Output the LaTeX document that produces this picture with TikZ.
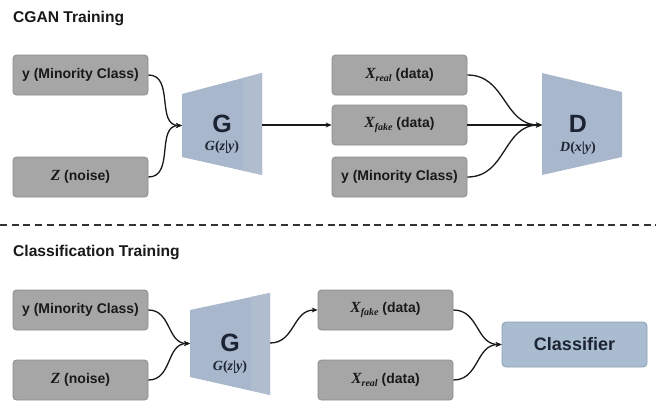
\documentclass[tikz,border=0pt]{standalone}
\usepackage{fontspec}
\setmainfont{Liberation Sans}
\newfontfamily\mserif{Liberation Serif}
\usetikzlibrary{arrows.meta}
\definecolor{boxfill}{HTML}{A6A6A6}
\definecolor{boxdraw}{HTML}{8C8C8C}
\definecolor{trapfill}{HTML}{A8B7CB}
\definecolor{trapstrip}{HTML}{AFBDCF}
\definecolor{navy}{HTML}{1C2433}
\definecolor{clsfill}{HTML}{A9BCD0}
\definecolor{clsdraw}{HTML}{8FA1B6}
\newcommand{\mv}[1]{{\mserif\bfseries\itshape #1}}
\newcommand{\mup}[1]{{\mserif\bfseries #1}}
\newcommand{\msub}[2]{{\fontsize{15.5}{16}\selectfont\mv{#1}}\raisebox{-2.5pt}{\fontsize{10}{11}\selectfont\mv{#2}}}
\tikzset{
  databox/.style={rectangle, rounded corners=3.5pt, fill=boxfill, draw=boxdraw, line width=0.8pt,
    minimum width=135pt, minimum height=40pt, inner sep=0pt,
    font=\fontsize{14}{16}\selectfont\bfseries, text=black!90},
  title/.style={anchor=west, font=\fontsize{15.6}{18}\selectfont\bfseries, text=black!90, inner sep=0pt},
  trap/.style={fill=trapfill},
  strip/.style={fill=trapstrip},
  biglet/.style={font=\fontsize{25}{27}\selectfont\bfseries, text=navy, inner sep=0pt},
  sublab/.style={font=\fontsize{14}{15}\selectfont, text=navy, inner sep=0pt},
  conn/.style={line width=1.3pt, black!90, -{Stealth[length=6pt,width=5pt]}},
  curve/.style={conn, out=0, in=180, looseness=1.1}
}
\begin{document}
\begin{tikzpicture}[x=1pt, y=-1pt]
\useasboundingbox (0,0) rectangle (656,400);
\fill[white] (0,0) rectangle (656,400);

% titles
\node[title] (t1) at (13,18) {CGAN Training};
\node[title] (t2) at (13,252) {Classification Training};

% ---- top: CGAN training ----
\node[databox] (y1) at (80.5,75) {y (Minority Class)};
\node[databox] (z1) at (80.5,177) {{\fontsize{15.5}{16}\selectfont\mv{Z}} (noise)};

\fill[trap] (182,94) -- (262,73) -- (262,175) -- (182,157) -- cycle;
\fill[strip] (243,78) -- (262,73) -- (262,175) -- (243,170) -- cycle;
\node[biglet] (g1) at (222,124) {G};
\node[sublab] (g1s) at (222,147) {\mv{G}\mup{(}\mv{z}\mup{|}\mv{y}\mup{)}};
\coordinate (g1in) at (182,125.5);
\coordinate (g1out) at (262,125);

\node[databox] (xr1) at (399.5,75) {\msub{X}{real} (data)};
\node[databox] (xf1) at (399.5,125) {\msub{X}{fake} (data)};
\node[databox] (y2) at (399.5,177) {y (Minority Class)};

\fill[trap] (542,73) -- (622,92) -- (622,157) -- (542,175) -- cycle;
\node[biglet] (d1) at (578,124) {D};
\node[sublab] (d1s) at (578,148) {\mv{D}\mup{(}\mv{x}\mup{|}\mv{y}\mup{)}};
\coordinate (d1in) at (542,125);

\draw[curve] (y1.east) to (g1in);
\draw[curve] (z1.east) to (g1in);
\draw[conn] (g1out) -- (xf1.west);
\draw[curve] (xr1.east) to (d1in);
\draw[conn] (xf1.east) -- (d1in);
\draw[curve] (y2.east) to (d1in);

% separator
\coordinate (sepL) at (0,225);
\coordinate (sepR) at (656,225);
\draw[line width=1.1pt, black!80, dash pattern=on 7pt off 4.7pt] (sepL) -- (sepR);

% ---- bottom: classification training ----
\node[databox] (y3) at (80.5,310) {y (Minority Class)};
\node[databox] (z3) at (80.5,380) {{\fontsize{15.5}{16}\selectfont\mv{Z}} (noise)};

\fill[trap] (190,310) -- (270,293) -- (270,395) -- (190,377) -- cycle;
\fill[strip] (251,297) -- (270,293) -- (270,395) -- (251,390) -- cycle;
\node[biglet] (g2) at (230,343) {G};
\node[sublab] (g2s) at (230,367) {\mv{G}\mup{(}\mv{z}\mup{|}\mv{y}\mup{)}};
\coordinate (g2in) at (190,343.5);
\coordinate (g2out) at (270,343);

\node[databox] (xf3) at (385.5,310) {\msub{X}{fake} (data)};
\node[databox] (xr3) at (385.5,380) {\msub{X}{real} (data)};

\node[rectangle, rounded corners=4pt, fill=clsfill, draw=clsdraw, line width=0.8pt,
  minimum width=145pt, minimum height=45pt, text=navy,
  font=\fontsize{18}{20}\selectfont\bfseries] (cls) at (574.5,344.5) {Classifier};

\draw[curve] (y3.east) to (g2in);
\draw[curve] (z3.east) to (g2in);
\draw[curve] (g2out) to (xf3.west);
\draw[curve] (xf3.east) to (cls.west);
\draw[curve] (xr3.east) to (cls.west);
\end{tikzpicture}
\end{document}
